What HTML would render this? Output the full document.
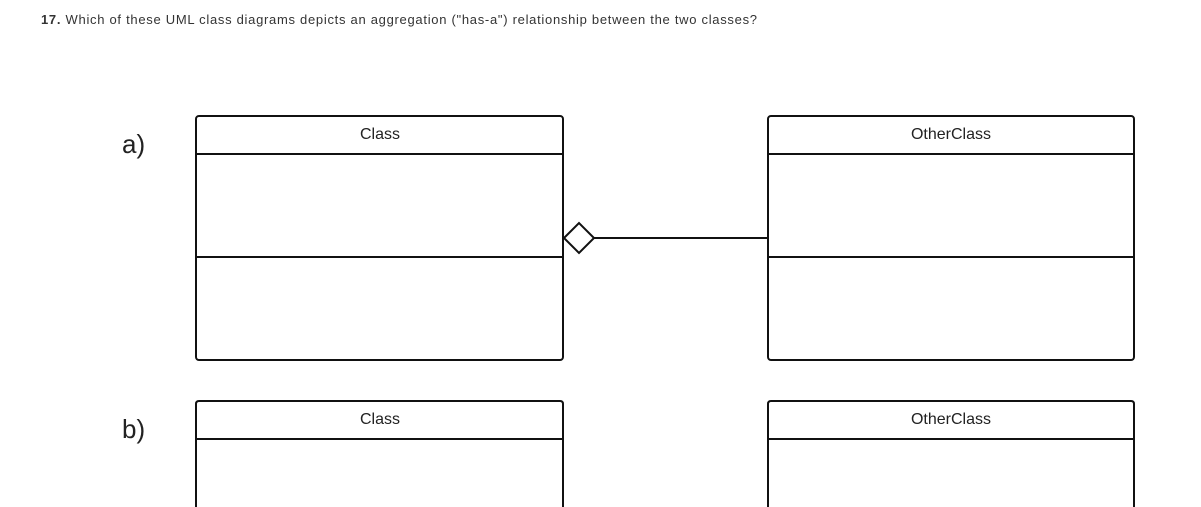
<!DOCTYPE html>
<html><head><style>
html,body{margin:0;padding:0;background:#fff;width:1201px;height:507px;overflow:hidden}
</style></head><body>
<svg width="1201" height="507" xmlns="http://www.w3.org/2000/svg" style="position:absolute;left:0;top:0">
<text x="41" y="24" font-family="Liberation Sans, sans-serif" font-size="13" fill="#333" textLength="716" lengthAdjust="spacing"><tspan font-weight="bold">17.</tspan> Which of these UML class diagrams depicts an aggregation ("has-a") relationship between the two classes?</text>
<text x="122" y="153" font-family="Liberation Sans, sans-serif" font-size="26" fill="#222">a)</text>
<text x="122" y="438" font-family="Liberation Sans, sans-serif" font-size="26" fill="#222">b)</text>
<g fill="none" stroke="#111" stroke-width="2">
<rect x="196" y="116" width="367" height="244" rx="3"/>
<line x1="196" y1="154" x2="563" y2="154"/>
<line x1="196" y1="257" x2="563" y2="257"/>
<rect x="768" y="116" width="366" height="244" rx="3"/>
<line x1="768" y1="154" x2="1134" y2="154"/>
<line x1="768" y1="257" x2="1134" y2="257"/>
<polygon points="564,238 579,223 594,238 579,253" fill="#fff"/>
<line x1="594" y1="238" x2="768" y2="238"/>
<path d="M196,520 V404 Q196,401 199,401 H560 Q563,401 563,404 V520"/>
<line x1="196" y1="439" x2="563" y2="439"/>
<path d="M768,520 V404 Q768,401 771,401 H1131 Q1134,401 1134,404 V520"/>
<line x1="768" y1="439" x2="1134" y2="439"/>
</g>
<g font-family="Liberation Sans, sans-serif" font-size="16" fill="#222" text-anchor="middle">
<text x="380" y="139">Class</text>
<text x="951" y="139">OtherClass</text>
<text x="380" y="424">Class</text>
<text x="951" y="424">OtherClass</text>
</g>
</svg>
</body></html>
